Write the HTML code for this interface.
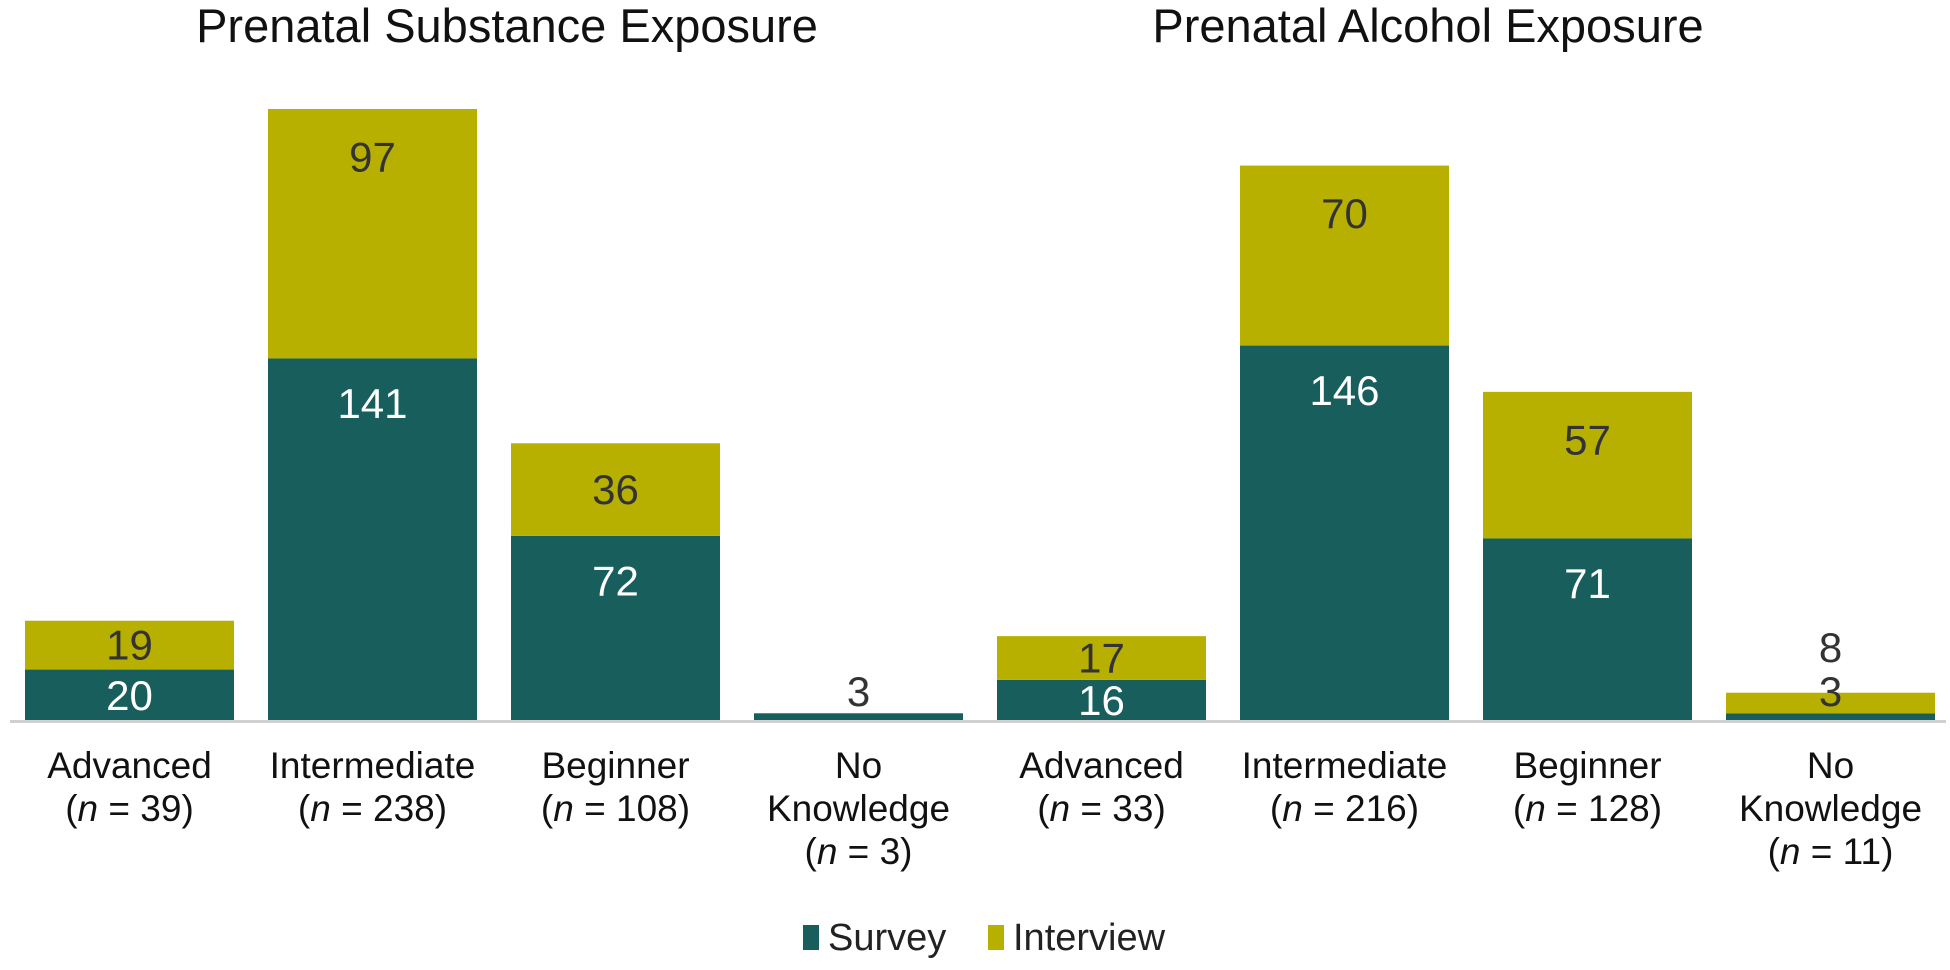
<!DOCTYPE html>
<html><head><meta charset="utf-8"><style>
body{margin:0;background:#fff;}
svg text{font-family:"Liberation Sans",Arial,sans-serif;}
</style></head><body>
<svg id="chart" width="1950" height="965" viewBox="0 0 1950 965" xmlns="http://www.w3.org/2000/svg">
<text x="507" y="42" font-size="47" text-anchor="middle" fill="#111">Prenatal Substance Exposure</text>
<text x="1428" y="42" font-size="47" text-anchor="middle" fill="#111">Prenatal Alcohol Exposure</text>
<g id="bars"></g>
<line x1="10" y1="721.5" x2="1946" y2="721.5" stroke="#d0d0d0" stroke-width="3"/>
<g id="labels"></g>
<rect x="803" y="925" width="16" height="25" fill="#175e5c"/>
<text x="828" y="950" font-size="38" fill="#222">Survey</text>
<rect x="988" y="925" width="16" height="25" fill="#b8b000"/>
<text x="1013" y="950" font-size="38" fill="#222">Interview</text>
</svg>
<script>
const categories = ["Advanced","Intermediate","Beginner","No Knowledge","Advanced","Intermediate","Beginner","No Knowledge"];
const nValues = [39,238,108,3,33,216,128,11];
const surveyValues = [20,141,72,3,16,146,71,3];
const interviewValues = [19,97,36,0,17,70,57,8];

const NS="http://www.w3.org/2000/svg";
const baseY=721, pxPerUnit=612/238, x0=25, step=243, bw=209;
const yScale=v=>v*pxPerUnit;
const xPos=i=>x0+i*step;
const bars=document.getElementById('bars'), labels=document.getElementById('labels');
function mk(tag,attrs,parent){const e=document.createElementNS(NS,tag);for(const k in attrs)e.setAttribute(k,attrs[k]);parent.appendChild(e);return e;}
function txt(x,y,s,fill,parent){const t=mk('text',{x:x,y:y,'font-size':42,'text-anchor':'middle','dominant-baseline':'central',fill:fill},parent);t.textContent=s;return t;}
categories.forEach((c,i)=>{
  const x=xPos(i), cx=x+bw/2;
  const hs=yScale(surveyValues[i]), hi=yScale(interviewValues[i]);
  const rs=mk('rect',{x:x,y:baseY-hs,width:bw,height:hs,fill:'#175e5c'},bars);
  
  
  if(interviewValues[i]>0){
    const ri=mk('rect',{x:x,y:baseY-hs-hi,width:bw,height:hi,fill:'#b8b000'},bars);
    
    
  }
  let t;
  if(hs>40){t=txt(cx,Math.min(baseY-hs+45,baseY-hs/2),surveyValues[i],'#fff',labels);}
  else {t=txt(cx,baseY-hs-22,surveyValues[i],'#333',labels);}
  
  
  if(interviewValues[i]>0){
    let ti;
    if(hi>40){ti=txt(cx,Math.min(baseY-hs-hi+48,baseY-hs-hi/2),interviewValues[i],'#333',labels);}
    else {ti=txt(cx,baseY-hs-hi-45,interviewValues[i],'#333',labels);}
    
    
  }
  const lines = c==="No Knowledge" ? ["No","Knowledge"] : [c];
  const g=mk('text',{x:cx,'font-size':37,'text-anchor':'middle',fill:'#111'},labels);
  
  
  lines.forEach((l,k)=>{const ts=mk('tspan',{x:cx,y:778+k*43},g);ts.textContent=l;});
  const ts=mk('tspan',{x:cx,y:778+lines.length*43},g);
  ts.appendChild(document.createTextNode('('));
  const it=mk('tspan',{'font-style':'italic'},ts);it.textContent='n';
  ts.appendChild(document.createTextNode(' = '+nValues[i]+')'));
});
</script>
</body></html>
